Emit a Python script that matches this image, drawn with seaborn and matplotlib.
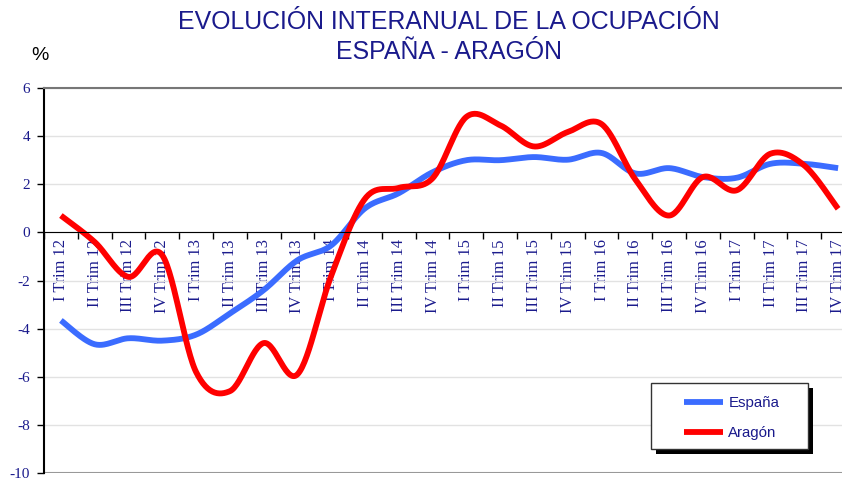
import matplotlib
matplotlib.use("Agg")
import matplotlib.pyplot as plt
from matplotlib.patches import Rectangle
import numpy as np
import pandas as pd
import seaborn as sns

trimestres = ["I Trim 12", "II Trim 12", "III Trim 12", "IV Trim 12",
              "I Trim 13", "II Trim 13", "III Trim 13", "IV Trim 13",
              "I Trim 14", "II Trim 14", "III Trim 14", "IV Trim 14",
              "I Trim 15", "II Trim 15", "III Trim 15", "IV Trim 15",
              "I Trim 16", "II Trim 16", "III Trim 16", "IV Trim 16",
              "I Trim 17", "II Trim 17", "III Trim 17", "IV Trim 17"]
espana = [-3.66, -4.65, -4.4, -4.5, -4.25, -3.37, -2.4, -1.16,
          -0.54, 1.0, 1.63, 2.5, 3.0, 3.0, 3.13, 3.02,
          3.3, 2.45, 2.67, 2.3, 2.27, 2.85, 2.85, 2.67]
aragon = [0.7, -0.4, -1.85, -0.95, -5.8, -6.6, -4.6, -5.9,
          -1.8, 1.4, 1.85, 2.25, 4.8, 4.45, 3.57, 4.17,
          4.5, 2.2, 0.7, 2.3, 1.75, 3.27, 2.78, 0.98]

NAVY = "#1a1a8c"


def smooth(y, n=30):
    # excel-like smoothed line (cardinal bezier through each point)
    y = np.asarray(y, float)
    x = np.arange(len(y), dtype=float)
    p = np.column_stack([x, y])
    p = np.vstack([p[0], p, p[-1]])
    out = []
    t = np.linspace(0, 1, n)[:, None]
    for i in range(1, len(p) - 2):
        p0, p1, p2, p3 = p[i - 1], p[i], p[i + 1], p[i + 2]
        c1 = p1 + (p2 - p0) / 6
        c2 = p2 - (p3 - p1) / 6
        seg = ((1 - t) ** 3) * p1 + 3 * ((1 - t) ** 2) * t * c1 + 3 * (1 - t) * t ** 2 * c2 + t ** 3 * p2
        out.append(seg if i == 1 else seg[1:])
    out = np.vstack(out)
    return out[:, 0], out[:, 1]


sns.set_style("white")
plt.rcParams["font.family"] = ["Liberation Sans", "DejaVu Sans"]
plt.rcParams["axes.unicode_minus"] = False

W, H = 842, 479
fig = plt.figure(figsize=(W / 100, H / 100), dpi=100)
ax = fig.add_axes([44 / W, 6 / H, 811 / W, 385 / H])

for name, vals, col in [("España", espana, "#3b6cff"), ("Aragón", aragon, "#ff0000")]:
    sx, sy = smooth(vals)
    df = pd.DataFrame({"x": sx, "y": sy})
    sns.lineplot(data=df, x="x", y="y", ax=ax, color=col, lw=4.2, sort=False,
                 estimator=None, label=name, solid_capstyle="butt")

ax.set_xlim(-0.5, len(trimestres) - 0.5)
ax.set_ylim(-10, 6)
ax.set_yticks(np.arange(-10, 7, 2))
ax.yaxis.grid(True, color="#e2e2e2", lw=1)
ax.axhline(-10, color="#999999", lw=1.5, zorder=1)

ax.spines["bottom"].set_position(("data", 0))
ax.spines["bottom"].set_color("black")
ax.spines["left"].set_color("black")
ax.spines["left"].set_linewidth(1.5)
ax.spines["top"].set_color("#777777")
ax.spines["top"].set_linewidth(1.5)
ax.spines["right"].set_visible(False)

ax.set_xticks(np.arange(-0.5, len(trimestres), 1))
ax.set_xticklabels([])
ax.set_xticks(np.arange(len(trimestres)), minor=True)
ax.set_xticklabels(trimestres, minor=True, rotation=90, va="top", ha="center",
                   fontfamily="Liberation Serif", fontsize=11.8, color=NAVY)
ax.tick_params(axis="x", which="major", direction="out", length=5, width=1, color="black", bottom=True)
ax.tick_params(axis="x", which="minor", length=0, pad=5)
ax.tick_params(axis="y", direction="out", length=5, width=1, color="black", left=True, pad=5)
for lbl in ax.get_yticklabels():
    lbl.set_fontfamily("Liberation Serif")
    lbl.set_fontsize(11)
    lbl.set_color(NAVY)
ax.set_xlabel("")
ax.set_ylabel("")

# legend box with solid shadow, placed in figure pixel coordinates
ax.add_patch(Rectangle(((651 + 5) / W, 1 - (449 + 5) / H), 157 / W, 66 / H,
                       transform=fig.transFigure, facecolor="black", edgecolor="none",
                       zorder=5, clip_on=False))
ax.add_patch(Rectangle((651 / W, 1 - 449 / H), 157 / W, 66 / H,
                       transform=fig.transFigure, facecolor="white", edgecolor="#333333",
                       lw=1, zorder=6, clip_on=False))
leg = ax.legend(loc="upper left", bbox_to_anchor=(684 / W, 1 - 396 / H), bbox_transform=fig.transFigure,
                frameon=False, fontsize=10.8, handlelength=2.6, labelspacing=1.1, borderpad=0,
                handletextpad=0.35, borderaxespad=0)
leg.set_zorder(7)
for t in leg.get_texts():
    t.set_color(NAVY)

fig.text(449 / W, 1 - 22 / H, "EVOLUCIÓN INTERANUAL DE LA OCUPACIÓN", ha="center", va="center",
         fontsize=17.9, color=NAVY)
fig.text(449 / W, 1 - 52 / H, "ESPAÑA - ARAGÓN", ha="center", va="center",
         fontsize=17.9, color=NAVY)
fig.text(40 / W, 1 - 56 / H, "%", ha="center", va="center", fontsize=14, color="black")

fig.savefig("out.png", dpi=100)
